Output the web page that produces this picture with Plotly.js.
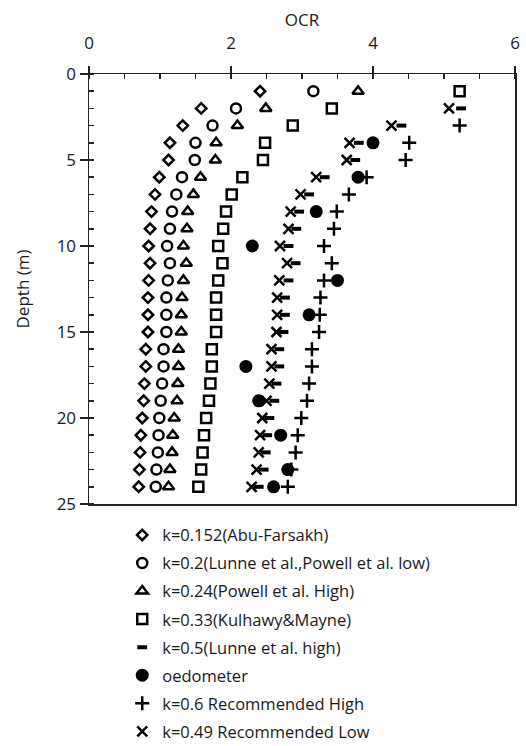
<!DOCTYPE html>
<html><head><meta charset="utf-8">
<script src="https://cdn.plot.ly/plotly-3.0.1.min.js"></script>
<style>html,body{margin:0;padding:0;background:#fff}#chart{width:526px;height:746px}</style>
</head><body><div id="chart"></div>
<script>
const depth = [1,2,3,4,5,6,7,8,9,10,11,12,13,14,15,16,17,18,19,20,21,22,23,24];
const kAbu = [2.41,1.58,1.32,1.14,1.12,0.99,0.93,0.88,0.86,0.84,0.86,0.84,0.83,0.83,0.83,0.80,0.80,0.78,0.77,0.75,0.73,0.72,0.71,0.70];
const kLunneLow = [3.16,2.07,1.74,1.50,1.49,1.31,1.23,1.17,1.14,1.10,1.14,1.11,1.09,1.09,1.09,1.05,1.05,1.03,1.01,0.99,0.98,0.97,0.95,0.94];
const kPowellHigh = [3.79,2.49,2.09,1.79,1.78,1.57,1.47,1.39,1.38,1.33,1.37,1.33,1.31,1.30,1.30,1.26,1.26,1.25,1.24,1.20,1.18,1.17,1.14,1.12];
const kKulhawy = [5.22,3.42,2.87,2.48,2.45,2.16,2.01,1.93,1.89,1.82,1.88,1.82,1.79,1.79,1.79,1.73,1.73,1.71,1.69,1.65,1.62,1.60,1.58,1.54];
const depthHigh = [2,3,4,5,6,7,8,9,10,11,12,13,14,15,16,17,18,19,20,21,22,23,24];
const kLunneHigh = [5.24,4.40,3.80,3.75,3.32,3.10,2.96,2.92,2.81,2.91,2.81,2.76,2.76,2.74,2.68,2.68,2.64,2.61,2.54,2.51,2.49,2.46,2.39];
const kRecLow = [5.07,4.26,3.67,3.63,3.20,2.98,2.84,2.81,2.69,2.79,2.68,2.65,2.65,2.64,2.57,2.57,2.54,2.50,2.44,2.41,2.39,2.36,2.29];
const depthRecHigh = [3,4,5,6,7,8,9,10,11,12,13,14,15,16,17,18,19,20,21,22,23,24];
const kRecHigh = [5.22,4.51,4.46,3.91,3.66,3.49,3.45,3.31,3.42,3.31,3.26,3.25,3.24,3.14,3.14,3.10,3.07,2.99,2.94,2.91,2.85,2.80];
const depthOed = [4,6,8,10,12,14,17,19,21,23,24];
const ocrOed = [4.00,3.79,3.20,2.30,3.50,3.10,2.21,2.39,2.70,2.80,2.60];

const names = ['k=0.152(Abu-Farsakh)','k=0.2(Lunne et al.,Powell et al. low)','k=0.24(Powell et al. High)','k=0.33(Kulhawy&Mayne)','k=0.5(Lunne et al. high)','oedometer','k=0.6 Recommended High','k=0.49 Recommended Low'];

function tr(x,y,name,symbol,size,lw,g){
  return {x:x,y:y,name:name,type:'scatter',mode:'markers',legendgroup:g,
    marker:{symbol:symbol,size:size,color:'#000',line:{color:'#000',width:lw}}};
}
const data = [
  tr(kAbu,depth,names[0],'diamond-open',8,2.5,'a'),
  tr(kLunneLow,depth,names[1],'circle-open',10,2.5,'b'),
  tr(kPowellHigh,depth,names[2],'triangle-up-open',10,2.5,'c'),
  tr(kKulhawy,depth,names[3],'square-open',10,2.5,'d'),
  tr(kLunneHigh,depthHigh,names[4],'line-ew',7,4,'e'),
  tr(ocrOed,depthOed,names[5],'circle',13,0,'f'),
  tr(kRecHigh,depthRecHigh,names[6],'cross-thin',10,2.5,'g'),
  tr(kRecLow,depthHigh,names[7],'x-thin',10,2.5,'h')
];
const layout = {
  width:526,height:746,
  margin:{l:88.5,r:10.5,t:74,b:242,autoexpand:false},
  paper_bgcolor:'#fff',plot_bgcolor:'#fff',
  font:{family:'Open Sans, sans-serif',color:'#1a1a1a',size:16},
  showlegend:true,
  legend:{x:0.078,xanchor:'left',xref:'paper',y:0.306,yref:'container',yanchor:'top',orientation:'v',
    font:{size:16.5,color:'#1a1a1a'},tracegroupgap:3.6,itemwidth:30,bgcolor:'rgba(0,0,0,0)',traceorder:'grouped'},
  xaxis:{side:'top',range:[0,6],dtick:2,tick0:0,showgrid:false,zeroline:false,
    showline:true,linecolor:'#222',linewidth:1.5,mirror:true,
    ticks:'outside',ticklen:7,tickwidth:1.5,tickcolor:'#222',ticklabelstandoff:10,
    minor:{ticks:'inside',dtick:0.5,ticklen:5,tickwidth:1.5,tickcolor:'#222',showgrid:false},
    tickfont:{size:17,color:'#1a1a1a'},
    title:{text:'OCR',font:{size:17,color:'#1a1a1a'},standoff:0}},
  yaxis:{range:[25,0],dtick:5,tick0:0,showgrid:false,zeroline:false,
    showline:true,linecolor:'#222',linewidth:1.5,mirror:true,
    ticks:'outside',ticklen:8,tickwidth:1.5,tickcolor:'#222',
    minor:{ticks:'inside',dtick:1,ticklen:5,tickwidth:1.5,tickcolor:'#222',showgrid:false},
    tickfont:{size:17,color:'#1a1a1a'},
    title:{text:'Depth (m)',font:{size:17,color:'#1a1a1a'},standoff:22}}
};
Plotly.newPlot('chart',data,layout,{displayModeBar:false,staticPlot:true});
</script></body></html>
